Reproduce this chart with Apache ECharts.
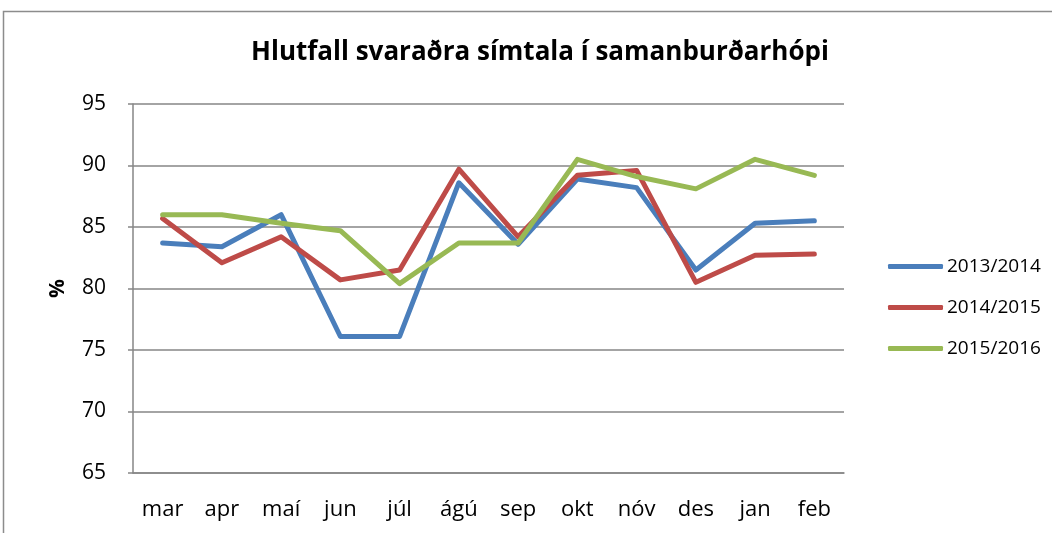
<!DOCTYPE html>
<html>
<head>
<meta charset="utf-8">
<script src="https://cdn.jsdelivr.net/npm/echarts@6/dist/echarts.min.js"></script>
<style>html,body{margin:0;padding:0;background:#fff;}#c{width:1052px;height:533px;}</style>
</head>
<body>
<div id="c"></div>
<script>
var categories = ['mar','apr','maí','jun','júl','ágú','sep','okt','nóv','des','jan','feb'];
var s2013 = [83.7, 83.4, 86.0, 76.1, 76.1, 88.6, 83.6, 88.9, 88.2, 81.5, 85.3, 85.5];
var s2014 = [85.7, 82.1, 84.2, 80.7, 81.5, 89.7, 84.2, 89.2, 89.6, 80.5, 82.7, 82.8];
var s2015 = [86.0, 86.0, 85.3, 84.7, 80.4, 83.7, 83.7, 90.5, 89.1, 88.1, 90.5, 89.2];
var seriesNames = ['2013/2014', '2014/2015', '2015/2016'];
var colors = ['#4A7EBB', '#BE4B48', '#98B954'];
var titleText = 'Hlutfall svaraðra símtala í samanburðarhópi';

var chart = echarts.init(document.getElementById('c'), null, {renderer: 'canvas'});
var font = 'Open Sans';
function mk(name, data, color) {
  return {name: name, type: 'line', data: data, symbol: 'none', smooth: false,
    lineStyle: {width: 5, color: color, cap: 'round', join: 'round'}, itemStyle: {color: color}};
}
chart.setOption({
  animation: false,
  graphic: [{type: 'rect', shape: {x: 3.5, y: 11.5, width: 1060, height: 540},
    style: {fill: 'none', stroke: '#8c8c8c', lineWidth: 1.5}, silent: true}],
  title: {text: titleText, left: 535, top: 35, textAlign: 'center',
    textStyle: {fontFamily: font, fontWeight: 'bold', fontSize: 26, color: '#000'}},
  legend: {orient: 'vertical', left: 883, top: 252, itemGap: 22, itemWidth: 55, itemHeight: 5,
    icon: 'roundRect', textStyle: {fontFamily: font, fontSize: 19, color: '#000', padding: [0,0,0,-1]},
    data: seriesNames},
  grid: {left: 133, right: 208, top: 104, bottom: 60},
  xAxis: {type: 'category', data: categories, boundaryGap: true,
    axisLine: {show: true, lineStyle: {color: '#868686', width: 1.5}},
    axisTick: {show: false},
    axisLabel: {fontFamily: font, fontSize: 22, color: '#000', margin: 26}},
  yAxis: {type: 'value', min: 65, max: 95, interval: 5, name: '%', nameLocation: 'middle',
    nameGap: 64, nameRotate: 90,
    nameTextStyle: {fontFamily: font, fontWeight: 'bold', fontSize: 21, color: '#000'},
    axisLine: {show: true, lineStyle: {color: '#868686', width: 1.5}},
    axisTick: {show: true, inside: false, length: 5, lineStyle: {color: '#868686', width: 1.5}},
    splitLine: {show: true, lineStyle: {color: '#868686', width: 1.5}},
    axisLabel: {fontFamily: font, fontSize: 21, color: '#000', margin: 27}},
  series: [mk(seriesNames[0], s2013, colors[0]), mk(seriesNames[1], s2014, colors[1]), mk(seriesNames[2], s2015, colors[2])]
});
</script>
</body>
</html>
